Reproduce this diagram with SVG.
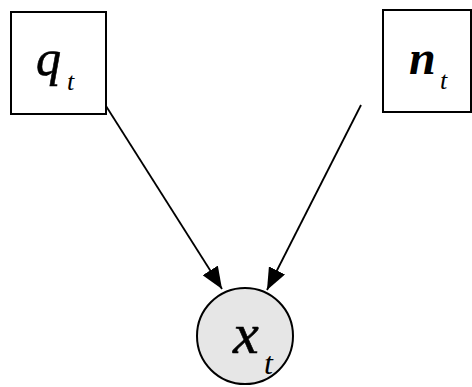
<svg xmlns="http://www.w3.org/2000/svg" width="472" height="387" viewBox="0 0 472 387">
<style>
.box{fill:#fff;stroke:#000;stroke-width:2}
.circ{fill:#e6e6e6;stroke:#000;stroke-width:2}
.lbl{font-family:"Liberation Serif","Times New Roman",serif;font-style:italic;fill:#000}
.edge{stroke:#000;stroke-width:1.8;fill:none}
</style>
<defs>
<marker id="arr" viewBox="0 0 22 18" refX="22" refY="9" markerWidth="22" markerHeight="18" markerUnits="userSpaceOnUse" orient="auto">
<path d="M0,0 L22,9 L0,18 Z" fill="#000"/>
</marker>
</defs>
<rect width="472" height="387" fill="#fff"/>
<g id="connectors">
<line class="edge" x1="106" y1="106" x2="222" y2="289" marker-end="url(#arr)"/>
<line class="edge" x1="361" y1="105" x2="267" y2="290" marker-end="url(#arr)"/>
</g>
<g id="node-q">
<rect class="box" x="11" y="12" width="95" height="102"/>
<text class="lbl" x="36" y="75" font-size="50" stroke="#000" stroke-width="0.6">q</text>
<text class="lbl" x="67" y="90" font-size="26">t</text>
</g>
<g id="node-n">
<rect class="box" x="383" y="10" width="88" height="102"/>
<text class="lbl" x="409" y="74" font-size="48" font-weight="bold">n</text>
<text class="lbl" x="440" y="89" font-size="26">t</text>
</g>
<g id="node-x">
<ellipse class="circ" cx="245" cy="336" rx="48" ry="48"/>
<text class="lbl" x="233" y="353" font-size="58" stroke="#000" stroke-width="0.6">x</text>
<text class="lbl" x="264" y="374" font-size="32">t</text>
</g>
</svg>
